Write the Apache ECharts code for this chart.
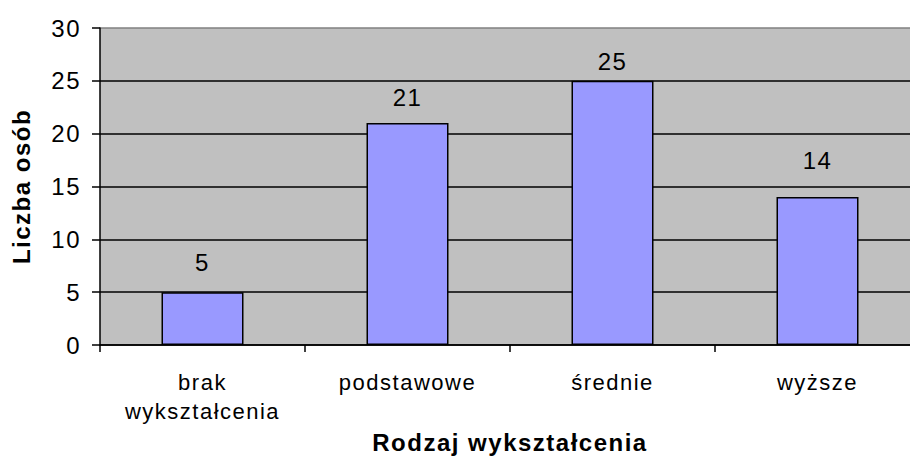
<!DOCTYPE html>
<html><head><meta charset="utf-8">
<script src="https://cdn.jsdelivr.net/npm/echarts@6/dist/echarts.min.js"></script>
<style>html,body{margin:0;padding:0;background:#fff}#c{width:910px;height:470px}#c text{letter-spacing:1.5px}</style>
</head><body><div id="c"></div>
<script>
var categories = ['brak\nwykształcenia', 'podstawowe', 'średnie', 'wyższe'];
var values = [5, 21, 25, 14];
var yTicks = [0, 5, 10, 15, 20, 25, 30];
var yName = 'Liczba osób';
var xName = 'Rodzaj wykształcenia';
// style: gap between each bar top and its value label (px)
var labelDistances = [18, 14, 7, 25];

var chart = echarts.init(document.getElementById('c'), null, {renderer: 'svg'});
var F = 'Liberation Sans';
chart.setOption({
  animation: false,
  grid: {left: 100, width: 820, top: 28, bottom: 125, show: true, backgroundColor: '#C0C0C0', borderWidth: 0,
         containLabel: false, outerBoundsMode: 'none'},
  xAxis: {
    type: 'category', data: categories,
    name: xName, nameLocation: 'middle', nameGap: 78,
    nameTextStyle: {fontFamily: F, fontSize: 24, fontWeight: 'bold', color: '#000'},
    axisLine: {lineStyle: {color: '#000', width: 1.5}},
    axisTick: {show: true, length: 7, lineStyle: {color: '#000', width: 1.5}},
    axisLabel: {fontFamily: F, fontSize: 22, color: '#000', margin: 23, lineHeight: 29},
    splitLine: {show: false}
  },
  yAxis: {
    type: 'value', min: yTicks[0], max: yTicks[yTicks.length - 1], interval: 5,
    name: yName, nameLocation: 'middle', nameGap: 67, nameRotate: 90,
    nameTextStyle: {fontFamily: F, fontSize: 24, fontWeight: 'bold', color: '#000'},
    axisLine: {show: true, lineStyle: {color: '#000', width: 1.5}},
    axisTick: {show: true, length: 8, lineStyle: {color: '#000', width: 1.5}},
    axisLabel: {fontFamily: F, fontSize: 24, color: '#000', margin: 19},
    splitLine: {show: true, lineStyle: {color: ['#000', '#000', '#000', '#000', '#000', '#000', '#808080'], width: 1.5}}
  },
  series: [{
    type: 'bar', barWidth: '40%',
    data: values.map(function (v, i) { return {value: v, label: {distance: labelDistances[i]}}; }),
    itemStyle: {color: '#9999FF', borderColor: '#000', borderWidth: 1.5},
    label: {show: true, position: 'top', fontFamily: F, fontSize: 24, color: '#000'}
  }]
});
</script></body></html>
